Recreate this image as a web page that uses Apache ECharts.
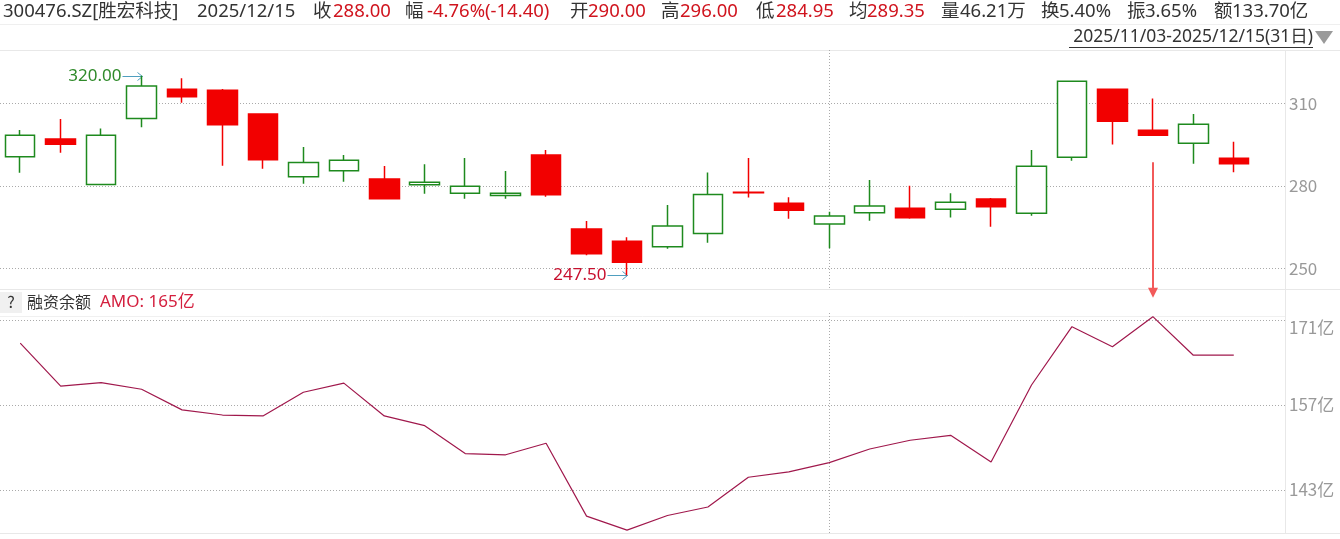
<!DOCTYPE html>
<html><head><meta charset="utf-8">
<script src="https://cdn.jsdelivr.net/npm/echarts@6/dist/echarts.min.js"></script>
<style>html,body{margin:0;padding:0;background:#fff}#c{width:1340px;height:539px}</style>
</head><body><div id="c"></div>
<script>
const dates = ['2025/11/03','2025/11/04','2025/11/05','2025/11/06','2025/11/07','2025/11/10','2025/11/11','2025/11/12','2025/11/13','2025/11/14',
'2025/11/17','2025/11/18','2025/11/19','2025/11/20','2025/11/21','2025/11/24','2025/11/25','2025/11/26','2025/11/27','2025/11/28',
'2025/12/01','2025/12/02','2025/12/03','2025/12/04','2025/12/05','2025/12/08','2025/12/09','2025/12/10','2025/12/11','2025/12/12','2025/12/15'];
const openP  = [290.6,297.0,280.5,304.5,315.1,314.8,306.1,283.3,285.5,282.5,280.4,277.3,276.5,291.2,264.3,259.9,257.9,262.7,277.7,273.7,266.1,270.2,271.9,271.5,275.2,270.0,290.4,315.1,300.2,295.5,290.0];
const closeP = [298.4,295.1,298.4,316.3,312.4,302.2,289.5,288.5,289.3,275.3,281.3,279.9,277.3,276.8,255.3,252.2,265.4,276.9,277.5,271.1,269.0,272.7,268.4,274.0,272.4,287.1,318.0,303.5,298.4,302.4,288.0];
const lowP   = [284.8,292.0,280.5,301.3,310.2,287.3,286.2,280.8,281.5,275.2,277.1,275.3,275.3,276.0,254.8,247.5,257.1,259.3,275.8,268.0,257.3,267.3,268.0,268.5,265.1,269.1,289.1,295.0,298.4,288.0,284.95];
const highP  = [300.3,304.3,300.9,320.0,319.1,315.2,306.3,294.1,291.2,287.2,287.9,290.1,285.4,293.0,267.2,261.3,273.0,284.9,290.1,275.9,270.6,282.1,280.0,277.3,275.6,293.0,318.0,315.1,311.8,306.1,296.0];
const amo    = [167.2,160.1,160.7,159.6,156.2,155.35,155.2,159.1,160.6,155.2,153.6,149.0,148.8,150.7,138.7,136.4,138.8,140.2,145.1,146.0,147.5,149.75,151.2,152.0,147.6,160.3,169.9,166.6,171.55,165.2,165.2];
const priceTicks = [250, 280, 310];
const amoTicks = [143, 157, 171];

const FONT = '"Noto Sans CJK SC","Noto Sans",sans-serif';
const HFONT = '"Noto Sans","Noto Sans CJK SC",sans-serif';
const RED = '#f20000', GREEN = '#1e8a1e', LINE = '#a0184c';
const TXT = '#333', VAL = '#d0141e', AXIS = '#999';
const dotted = {color:'#aaa', type:[1,2], width:1};
const PMIN = 242.5, PMAX = 329.4, AMIN = 135.92, AMAX = 171.66;

const chart = echarts.init(document.getElementById('c'), null, {renderer:'canvas'});
const candleData = openP.map((o,i)=>[o, closeP[i], lowP[i], highP[i]]);

chart.setOption({
  animation:false,
  grid:[
    {left:0, top:50, width:1285, height:239},
    {left:0, top:50, width:1254, height:239},
    {left:0, top:316, width:1285, height:217},
    {left:0, top:316, width:1254, height:217}
  ],
  xAxis:[
    {gridIndex:0, type:'value', show:false, min:0, max:1},
    {gridIndex:1, type:'category', data:dates, boundaryGap:true, axisLine:{show:false}, axisTick:{show:false}, axisLabel:{show:false}, splitLine:{show:false}},
    {gridIndex:2, type:'value', show:false, min:0, max:1},
    {gridIndex:3, type:'category', data:dates, boundaryGap:true, axisLine:{show:false}, axisTick:{show:false}, axisLabel:{show:false}, splitLine:{show:false}}
  ],
  yAxis:[
    {gridIndex:0, type:'value', position:'right', min:PMIN, max:PMAX,
      axisLine:{show:false}, axisTick:{show:false, customValues:priceTicks},
      axisLabel:{customValues:priceTicks, color:AXIS, fontSize:17, fontFamily:FONT, margin:4},
      splitLine:{show:true, lineStyle:dotted}},
    {gridIndex:1, type:'value', min:PMIN, max:PMAX, show:false, splitLine:{show:false}},
    {gridIndex:2, type:'value', position:'right', min:AMIN, max:AMAX,
      axisLine:{show:false}, axisTick:{show:false, customValues:amoTicks},
      axisLabel:{customValues:amoTicks, color:AXIS, fontSize:17, fontFamily:FONT, margin:4,
        formatter:(v)=> v===amoTicks[amoTicks.length-1] ? '{t|'+v+'亿}' : v+'亿',
        rich:{t:{color:AXIS, fontSize:17, fontFamily:FONT, padding:[16,0,0,0]}}},
      splitLine:{show:true, lineStyle:dotted}},
    {gridIndex:3, type:'value', min:AMIN, max:AMAX, show:false, splitLine:{show:false}}
  ],
  series:[
    {type:'candlestick', xAxisIndex:1, yAxisIndex:1, data:candleData, barWidth:30,
      itemStyle:{color:'#fff', color0:RED, borderColor:GREEN, borderColor0:RED, borderWidth:1.5}},
    {type:'line', xAxisIndex:3, yAxisIndex:3, data:amo, symbol:'none', lineStyle:{color:LINE, width:1.2}}
  ]
});

// ---- graphics (layout + annotations computed through the axes) ----
const g = [];
function txt(x, y, text, fill, size, align, font){
  g.push({type:'text', x, y, silent:true, style:{text, fill, fontSize:size||18, fontFamily:font||FONT, align:align||'left', verticalAlign:'middle'}});
}
function hline(x1,x2,y,color){ g.push({type:'line', silent:true, shape:{x1,y1:y,x2,y2:y}, style:{stroke:color||'#e8e8e8', lineWidth:1}}); }
function vline(x,y1,y2,color,dash){ g.push({type:'line', silent:true, shape:{x1:x,y1,x2:x,y2}, style:{stroke:color||'#e8e8e8', lineWidth:1, lineDash:dash||null}}); }

// header
const hdr = [
  [3,'300476.SZ[胜宏科技]',TXT],[197,'2025/12/15',TXT],
  [313,'收',TXT],[333,'288.00',VAL],
  [405,'幅',TXT],[427,'-4.76%(-14.40)',VAL],
  [570,'开',TXT],[588,'290.00',VAL],
  [661,'高',TXT],[680,'296.00',VAL],
  [756,'低',TXT],[776,'284.95',VAL],
  [849,'均',TXT],[867,'289.35',VAL],
  [941,'量',TXT],[960,'46.21万',TXT],
  [1041,'换',TXT],[1059,'5.40%',TXT],
  [1127,'振',TXT],[1145,'3.65%',TXT],
  [1214,'额',TXT],[1232,'133.70亿',TXT]
];
hdr.forEach(h=>txt(h[0], 12, h[1], h[2], 18.5, 'left', HFONT));
hline(0,1340,24.5,'#efefef');
// date range
txt(1313, 37, '2025/11/03-2025/12/15(31日)', TXT, 17.5, 'right', HFONT);
hline(1069,1313,47.5,'#333');
g.push({type:'polygon', silent:true, shape:{points:[[1315,31],[1333,31],[1324,44]]}, style:{fill:'#9a9a9a'}});
// frames
hline(0,1340,50.5); hline(0,1340,289.5); hline(0,1285,316.5,'#f0f0f0'); hline(0,1340,533.5);
vline(1285.5,50,533);
// lower panel title
g.push({type:'rect', silent:true, shape:{x:0,y:292,width:22,height:21}, style:{fill:'#f0f0f0'}});
txt(11, 302, '?', TXT, 16, 'center');
txt(27, 302, '融资余额', TXT, 16);
txt(100, 302, 'AMO: '+Math.round(amo[amo.length-1])+'亿', '#d4203f', 17, 'left', HFONT);

// month marker: through the first trading day of the new month, via the category axes
const mIdx = dates.findIndex((d,i)=> i>0 && d.slice(0,7)!==dates[i-1].slice(0,7));
const pa = chart.convertToPixel({xAxisIndex:1, yAxisIndex:1}, [mIdx, PMAX]);
const pb = chart.convertToPixel({xAxisIndex:1, yAxisIndex:1}, [mIdx, PMIN]);
const mx = Math.round(pa[0])+0.5;
vline(mx, pa[1], pb[1], '#aaa', [1,2]);
const qa = chart.convertToPixel({xAxisIndex:3, yAxisIndex:3}, [mIdx, AMAX]);
const qb = chart.convertToPixel({xAxisIndex:3, yAxisIndex:3}, [mIdx, AMIN]);
vline(mx, qa[1]-3, qb[1], '#aaa', [1,2]);

// annotations
const hiIdx = highP.indexOf(Math.max(...highP));
const loIdx = lowP.indexOf(Math.min(...lowP));
const pH = chart.convertToPixel({xAxisIndex:1, yAxisIndex:1}, [hiIdx, highP[hiIdx]]);
const pL = chart.convertToPixel({xAxisIndex:1, yAxisIndex:1}, [loIdx, lowP[loIdx]]);
const ARR = '#4f9fbf';
function sideArrow(p, label, color){
  const x = Math.round(p[0])+0.5, y = Math.round(p[1])+0.5;
  g.push({type:'polyline', silent:true, shape:{points:[[x-20,y],[x,y]]}, style:{stroke:ARR, lineWidth:1, fill:null}});
  g.push({type:'polyline', silent:true, shape:{points:[[x-5,y-4],[x,y],[x-5,y+4]]}, style:{stroke:ARR, lineWidth:1, fill:null}});
  txt(x-21, y, label, color, 17, 'right', HFONT);
}
sideArrow(pH, highP[hiIdx].toFixed(2), '#2f8a2a');
sideArrow(pL, lowP[loIdx].toFixed(2), '#c8102e');

const amoIdx = amo.indexOf(Math.max(...amo));
const pC = chart.convertToPixel({xAxisIndex:1, yAxisIndex:1}, [amoIdx, lowP[amoIdx]]);
const pA = chart.convertToPixel({xAxisIndex:3, yAxisIndex:3}, [amoIdx, amo[amoIdx]]);
const ax = Math.round(pC[0]);
const y1 = pC[1] + 27, y2 = pA[1] - 19;
g.push({type:'line', silent:true, shape:{x1:ax, y1, x2:ax, y2:y2-8}, style:{stroke:'#f25a5a', lineWidth:2}});
g.push({type:'polygon', silent:true, shape:{points:[[ax-5,y2-10],[ax+5,y2-10],[ax,y2]]}, style:{fill:'#f25a5a'}});

chart.setOption({graphic:g});
</script>
</body></html>
